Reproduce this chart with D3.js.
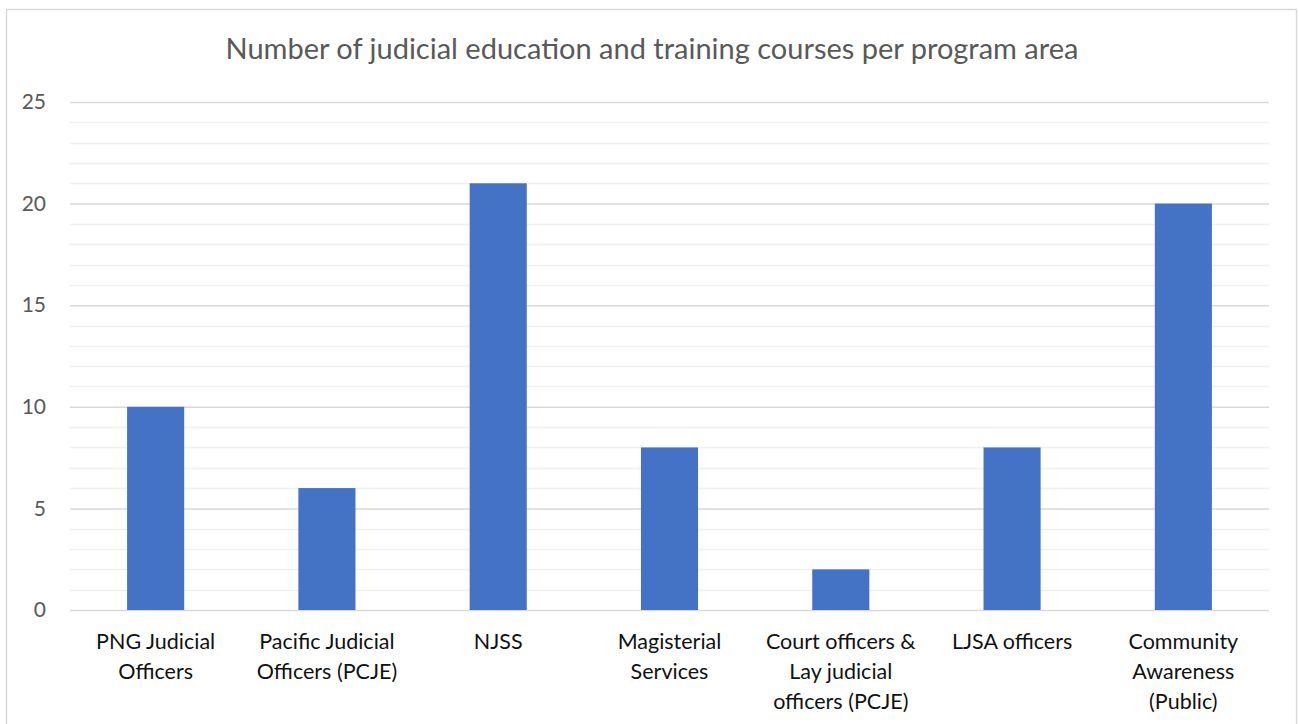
<!DOCTYPE html>
<html>
<head>
<meta charset="utf-8">
<script src="https://cdn.jsdelivr.net/npm/d3@7"></script>
<style>
  body { margin: 0; background: #fff; }
  svg { display: block; font-family: Lato, "Open Sans", sans-serif; }
</style>
</head>
<body>
<svg width="1299" height="724"></svg>
<script>
// chart data
const categories = [
  ["PNG Judicial", "Officers"],
  ["Pacific Judicial", "Officers (PCJE)"],
  ["NJSS"],
  ["Magisterial", "Services"],
  ["Court officers &", "Lay judicial", "officers (PCJE)"],
  ["LJSA officers"],
  ["Community", "Awareness", "(Public)"]
];
const courses = [10, 6, 21, 8, 2, 8, 20];
const yTicks = [0, 5, 10, 15, 20, 25];
const title = "Number of judicial education and training courses per program area";

let svg = d3.select("svg");
let margin = {top: 102, right: 30, bottom: 114, left: 70};
let width = 1299 - margin.left - margin.right, height = 724 - margin.top - margin.bottom;

// chart border
svg.append("rect")
  .attr("x", 6.5).attr("y", 9.5)
  .attr("width", 1290).attr("height", 730)
  .attr("fill", "none").attr("stroke", "#d9d9d9").attr("stroke-width", 1.5);

svg.append("text")
  .attr("x", 652).attr("y", 59)
  .attr("text-anchor", "middle")
  .attr("font-size", "29px")
  .attr("fill", "#595959")
  .text(title);

let keys = categories.map((c, i) => i);
let x = d3.scaleBand().domain(keys).range([0, width]).paddingInner(2 / 3).paddingOuter(1 / 3);
let xc = d3.scaleBand().domain(keys).range([0, width]);
let y = d3.scaleLinear().domain([0, 25]).range([height, 0]);

let g = svg.append("g").attr("transform", "translate(" + margin.left + "," + margin.top + ")");

// minor gridlines
g.append("g")
  .selectAll("line")
  .data(d3.range(0, 26).filter(v => v % 5 !== 0))
  .enter().append("line")
  .attr("x1", 0).attr("x2", width)
  .attr("y1", d => Math.round(y(d)) + 0.5).attr("y2", d => Math.round(y(d)) + 0.5)
  .attr("stroke", "#f0f0f0").attr("stroke-width", 1.5);

// major gridlines + labels
g.append("g")
  .call(d3.axisLeft(y).tickValues(yTicks).tickSizeInner(-width).tickSizeOuter(0).tickPadding(24))
  .call(a => a.select(".domain").remove())
  .call(a => a.selectAll("line").attr("stroke", "#d9d9d9").attr("stroke-width", 1.5))
  .call(a => a.selectAll("text").attr("fill", "#595959").attr("font-size", "21px").attr("font-family", "Lato, sans-serif"));

g.selectAll(".bar")
  .data(courses)
  .enter().append("rect")
  .attr("class", "bar")
  .attr("x", (d, i) => x(i))
  .attr("y", d => y(d))
  .attr("width", x.bandwidth())
  .attr("height", d => height - y(d))
  .attr("fill", "#4472c4");

// x labels
let lab = g.append("g").selectAll("text")
  .data(categories)
  .enter().append("text")
  .attr("x", (d, i) => xc(i) + xc.bandwidth() / 2)
  .attr("y", height + 39)
  .attr("text-anchor", "middle")
  .attr("font-size", "21.5px")
  .attr("fill", "#111");
lab.selectAll("tspan")
  .data(d => d)
  .enter().append("tspan")
  .attr("x", function() { return d3.select(this.parentNode).attr("x"); })
  .attr("dy", (d, i) => i === 0 ? 0 : 30)
  .text(d => d);
</script>
</body>
</html>
